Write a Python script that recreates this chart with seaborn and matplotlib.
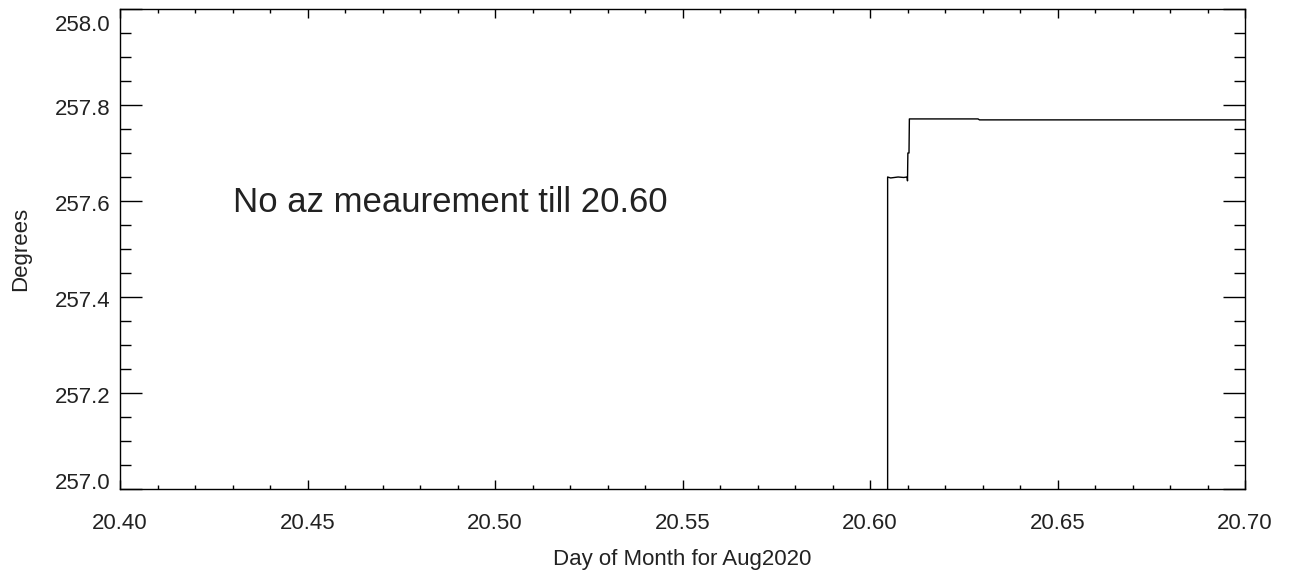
import matplotlib
matplotlib.use("Agg")
import matplotlib.pyplot as plt
import matplotlib.transforms as mtransforms
from matplotlib.ticker import MultipleLocator, FormatStrFormatter
import pandas as pd
import seaborn as sns

# azimuth readings (day of month, degrees)
dia = [20.6047, 20.6047, 20.6055, 20.6075, 20.6090, 20.6099, 20.6100,
       20.6101, 20.6104, 20.6105, 20.6180, 20.6288, 20.6292, 20.6500, 20.7000]
graus = [256.90, 257.650, 257.648, 257.650, 257.649, 257.650, 257.642,
         257.700, 257.700, 257.771, 257.771, 257.771, 257.769, 257.769, 257.769]

XLIM = (20.40, 20.70)
YLIM = (257.0, 258.0)
NOTA = "No az meaurement till 20.60"
NOTA_POS = (20.4301, 257.577)

df = pd.DataFrame({"dia": dia, "graus": graus})

sns.set_theme(style="ticks")
plt.rcParams["font.family"] = ["Liberation Sans", "DejaVu Sans"]
plt.rcParams["text.color"] = "#222222"
plt.rcParams["axes.labelcolor"] = "#222222"

fig = plt.figure(figsize=(12.95, 5.74), dpi=100)
ax = fig.add_axes([120 / 1295, 1 - 489 / 574, 1125 / 1295, 480 / 574])

sns.lineplot(data=df, x="dia", y="graus", sort=False, estimator=None,
             color="black", linewidth=1.0, ax=ax)

ax.set_xlim(*XLIM)
ax.set_ylim(*YLIM)

ax.xaxis.set_major_locator(MultipleLocator(0.05))
ax.xaxis.set_minor_locator(MultipleLocator(0.01))
ax.yaxis.set_major_locator(MultipleLocator(0.2))
ax.yaxis.set_minor_locator(MultipleLocator(0.05))
ax.xaxis.set_major_formatter(FormatStrFormatter("%.2f"))
ax.yaxis.set_major_formatter(FormatStrFormatter("%.1f"))

ax.tick_params(axis="both", which="both", direction="in", top=True, right=True,
               color="black", labelcolor="#222222", labelsize=16)
ax.tick_params(axis="x", which="major", length=6.5, width=1.0, pad=17)
ax.tick_params(axis="x", which="minor", length=3.2, width=1.0)
ax.tick_params(axis="y", which="major", length=16, width=1.0, pad=7)
ax.tick_params(axis="y", which="minor", length=8, width=1.0)

for s in ax.spines.values():
    s.set_color("black")
    s.set_linewidth(1.0)

ax.set_xlabel("Day of Month for Aug2020", fontsize=16, labelpad=11)
ax.set_ylabel("Degrees", fontsize=16, labelpad=17)

ax.text(NOTA_POS[0], NOTA_POS[1], NOTA, fontsize=25, color="#222222",
        ha="left", va="baseline")

# etiquetas do eixo y deslocadas para dentro nas pontas (estilo IDL)
fig.canvas.draw()
for tick, loc in zip(ax.yaxis.get_major_ticks(), ax.yaxis.get_majorticklocs()):
    lab = tick.label1
    if abs(loc - YLIM[0]) < 1e-6:
        lab.set_va("baseline")
    elif abs(loc - YLIM[1]) < 1e-6:
        lab.set_va("top")
        lab.set_transform(lab.get_transform() + mtransforms.ScaledTranslation(0, -6 / 100, fig.dpi_scale_trans))
    else:
        lab.set_transform(lab.get_transform() + mtransforms.ScaledTranslation(0, -2 / 100, fig.dpi_scale_trans))

fig.savefig("out.png", dpi=100, facecolor="white")
